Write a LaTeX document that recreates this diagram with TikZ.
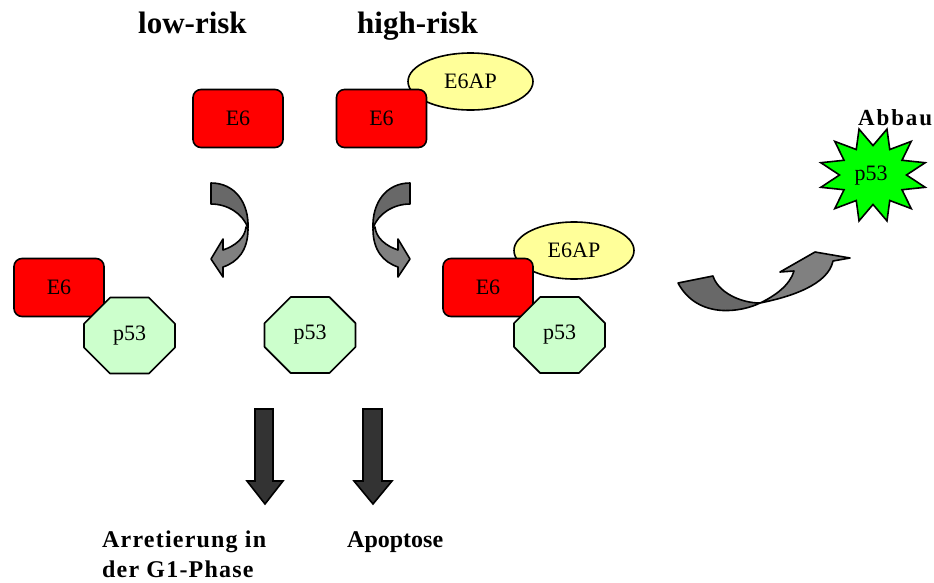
\documentclass[tikz,border=0pt]{standalone}
\usepackage{fontspec}
\setmainfont{Liberation Serif}
\usetikzlibrary{shapes.geometric,shapes.misc}
\definecolor{e6red}{RGB}{255,0,0}
\definecolor{apyellow}{RGB}{255,255,153}
\definecolor{pgreen}{RGB}{204,255,204}
\definecolor{stargreen}{RGB}{0,255,0}
\definecolor{arrdark}{RGB}{104,104,104}
\definecolor{arrlight}{RGB}{128,128,128}
\definecolor{downgray}{RGB}{51,51,51}
\tikzset{
  outl/.style={draw=black, line width=1.6pt, line join=round},
  lbl/.style={font=\fontsize{22}{26}\selectfont},
  e6box/.style={outl, lbl, rectangle, fill=e6red, rounded corners=8pt, minimum width=90pt, minimum height=58pt, inner sep=0pt},
  apell/.style={outl, lbl, ellipse, fill=apyellow, minimum width=125pt, minimum height=57pt, inner sep=0pt},
  pocta/.style={outl, lbl, chamfered rectangle, chamfered rectangle xsep=21pt, chamfered rectangle ysep=22pt, fill=pgreen, minimum width=91pt, minimum height=76pt, inner sep=0pt},
  title/.style={font=\fontsize{31}{36}\selectfont\bfseries, anchor=base west, inner sep=0pt},
  outcome/.style={font=\fontsize{24}{30}\selectfont\bfseries, anchor=base west, inner sep=0pt},
  bentdark/.style={outl, fill=arrdark},
  bentlight/.style={outl, fill=arrlight},
  downarr/.style={outl, fill=downgray, line join=miter},
}
\begin{document}
\begin{tikzpicture}[x=1pt,y=-1pt]
\path[use as bounding box, fill=white] (0,0) rectangle (934,582);

% titles
\node[title] (tlow) at (138,33) {low-risk};
\node[title] (thigh) at (357,33) {high-risk};

% top row
\node[apell] (ap1) at (470.5,81.5) {E6AP};
\node[e6box] (e6a) at (238,118.5) {E6};
\node[e6box] (e6b) at (381.5,118.5) {E6};

% curved arrows (left and mirrored right)
\begin{scope}
  \draw[bentdark] (211,183) .. controls (235,183) and (249,203) .. (248,228)
     .. controls (243,214) and (228,204) .. (211,204) -- cycle;
  \draw[bentlight] (246,227) .. controls (245,238) and (235,246) .. (223,250)
     -- (223,239) -- (211,259) -- (223,277) -- (223,267)
     .. controls (238,262) and (248,250) .. (248,229) -- cycle;
\end{scope}
\begin{scope}[shift={(621,0)}, xscale=-1]
  \draw[bentdark] (211,183) .. controls (235,183) and (249,203) .. (248,228)
     .. controls (243,214) and (228,204) .. (211,204) -- cycle;
  \draw[bentlight] (246,227) .. controls (245,238) and (235,246) .. (223,250)
     -- (223,239) -- (211,259) -- (223,277) -- (223,267)
     .. controls (238,262) and (248,250) .. (248,229) -- cycle;
\end{scope}

% middle row
\node[e6box] (e6c) at (59,287.5) {E6};
\node[pocta] (p1) at (129.5,335.5) {p53};
\node[pocta] (p2) at (310,335) {p53};
\node[apell, minimum width=120pt] (ap2) at (574,250.5) {E6AP};
\node[e6box] (e6d) at (488,287.5) {E6};
\node[pocta] (p3) at (559.5,335) {p53};

% big curved arrow to degradation
\draw[bentdark] (678,283) -- (713,276) .. controls (718,292) and (740,303) .. (760,303)
   .. controls (742,312) and (698,320) .. (678,283) -- cycle;
\draw[bentlight] (760,303) .. controls (790,297) and (828,285) .. (833,261)
   -- (850,258) -- (815,252) -- (780,272) -- (794,271)
   .. controls (790,285) and (775,296) .. (760,303) -- cycle;

% degradation star
\draw[outl, fill=stargreen, line join=miter]
  plot[samples at={0,...,23}] ({873+54*(1-0.38*mod(\x,2))*cos(15+15*\x)}, {175-47.5*(1-0.38*mod(\x,2))*sin(15+15*\x)}) -- cycle;
\node[lbl] (s53) at (871,176) {p53};
\node[font=\fontsize{23}{27}\selectfont\bfseries\addfontfeatures{LetterSpace=8}, anchor=base west, inner sep=0pt] (abbau) at (858,125) {Abbau};

% down arrows
\draw[downarr] (255,409) -- (273,409) -- (273,481) -- (283,481) -- (265,504) -- (247,481) -- (255,481) -- cycle;
\draw[downarr] (363,409) -- (382,409) -- (382,481) -- (392,481) -- (373,504) -- (354,481) -- (363,481) -- cycle;

% outcomes
\node[outcome, font=\fontsize{24}{30}\selectfont\bfseries\addfontfeatures{LetterSpace=5}] (arr1) at (102,547) {Arretierung in};
\node[outcome, font=\fontsize{24}{30}\selectfont\bfseries\addfontfeatures{LetterSpace=5}] (arr2) at (102,577) {der G1-Phase};
\node[outcome] (apop) at (347,547) {Apoptose};
\end{tikzpicture}
\end{document}
